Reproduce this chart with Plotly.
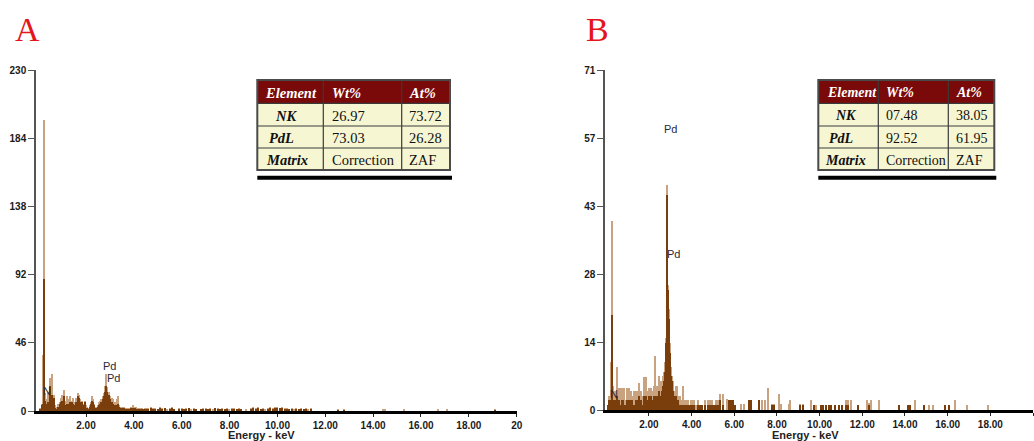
import plotly.graph_objects as go

# ---------------- DATA ----------------
# Panel A spectrum: energy (keV), light (upper) counts, dark (filled) counts
energy_A = [0.10, 0.15, 0.20, 0.25, 0.30, 0.35, 0.40, 0.45, 0.50, 0.55, 0.60, 0.65, 0.70, 0.75, 0.80, 0.85,
            0.90, 0.95, 1.00, 1.05, 1.10, 1.15, 1.20, 1.25, 1.30, 1.35, 1.40, 1.45, 1.50, 1.55, 1.60, 1.65,
            1.70, 1.75, 1.80, 1.85, 1.90, 1.95, 2.00, 2.05, 2.10, 2.15, 2.20, 2.25, 2.30, 2.35, 2.40, 2.45,
            2.50, 2.55, 2.60, 2.65, 2.70, 2.75, 2.80, 2.85, 2.90, 2.95, 3.00, 3.05, 3.10, 3.15, 3.20, 3.25,
            3.30, 3.35, 3.40, 3.45, 3.50, 3.55, 3.60, 3.65, 3.70, 3.75, 3.80, 3.85, 3.90, 3.95, 4.00, 4.05,
            4.10, 4.15, 4.20, 4.25, 4.30, 4.35, 4.40, 4.45, 4.50,
            4.6, 4.7, 4.8, 4.9, 5.0, 5.1, 5.2, 5.3, 5.4, 5.5, 5.6, 5.7, 5.8, 5.9, 6.0, 6.1, 6.2, 6.3, 6.4,
            6.5, 6.6, 6.7, 6.8, 6.9, 7.0, 7.1, 7.2, 7.3, 7.4, 7.5, 7.6, 7.7, 7.8, 7.9, 8.0, 8.1, 8.2, 8.3,
            8.4, 8.5, 8.6, 8.7, 8.8, 8.9, 9.0, 9.1, 9.2, 9.3, 9.4, 9.5, 9.6, 9.7, 9.8, 9.9, 10.0, 10.1,
            10.2, 10.3, 10.4, 10.5, 10.6, 10.7, 10.8, 10.9, 11.0, 11.1, 11.2, 11.3, 11.4,
            12.55, 12.8, 14.4, 14.5, 15.3, 16.7, 17.1, 19.1]
light_A = [2, 5, 38, 196, 12, 8, 13, 9, 22, 16, 25, 11, 4, 2, 3, 5,
           6, 9, 11, 8, 14, 7, 10, 6, 8, 10, 7, 9, 5, 6, 9, 12,
           11, 8, 6, 7, 5, 7, 4, 3, 2, 4, 6, 10, 8, 5, 3, 3,
           4, 6, 7, 8, 10, 12, 17, 25, 16, 13, 10, 7, 9, 8, 6, 5,
           8, 10, 4, 3, 3, 2, 3, 2, 2, 2, 1, 2, 3, 4, 3, 2,
           3, 2, 2, 1, 2, 2, 1, 2, 2,
           2, 3, 2, 2, 1, 3, 2, 2, 1, 2, 3, 1, 0, 2, 2, 1, 2, 2, 1,
           2, 1, 0, 1, 2, 2, 1, 2, 1, 2, 2, 1, 2, 1, 2, 1, 2, 2, 1,
           2, 1, 0, 1, 0, 2, 3, 2, 3, 1, 2, 1, 2, 3, 2, 3, 3, 2,
           3, 2, 2, 1, 2, 1, 2, 1, 2, 1, 2, 1, 2,
           1.5, 1.5, 1, 1, 1, 1, 1, 1]
dark_A = [1, 4, 5, 89, 7, 5, 6, 5, 17, 10, 11, 9, 2, 1, 1, 3,
          5, 6, 7, 5, 10, 4, 5, 4, 5, 6, 6, 5, 3, 4, 6, 10,
          9, 6, 5, 6, 4, 6, 2, 2, 1, 3, 5, 7, 6, 4, 2, 2,
          3, 4, 5, 6, 8, 10, 13, 17, 13, 11, 8, 5, 6, 5, 4, 3,
          4, 5, 3, 2, 2, 1, 2, 1, 1, 1, 1, 1, 2, 2, 2, 2,
          1, 1, 1, 1, 1, 1, 1, 1, 1,
          1, 2, 1, 1, 1, 2, 1, 2, 0, 1, 2, 1, 0, 1, 1, 1, 1, 2, 0,
          1, 1, 0, 1, 1, 1, 1, 1, 0, 2, 1, 1, 1, 1, 1, 0, 1, 1, 1,
          1, 1, 0, 0, 0, 1, 2, 1, 2, 1, 1, 0, 1, 2, 1, 2, 2, 2,
          2, 1, 1, 1, 1, 0, 1, 1, 1, 1, 1, 0, 1,
          0.5, 0.5, 0, 0, 0, 0, 0, 0.5]

# Panel B spectrum
energy_B = [0.10, 0.15, 0.20, 0.25, 0.30, 0.35, 0.40, 0.45, 0.50, 0.55, 0.60, 0.65, 0.70, 0.75, 0.80, 0.85,
            0.90, 0.95, 1.00, 1.05, 1.10, 1.15, 1.20, 1.25, 1.30, 1.35, 1.40, 1.45, 1.50, 1.55, 1.60, 1.65,
            1.70, 1.75, 1.80, 1.85, 1.90, 1.95, 2.00, 2.05, 2.10, 2.15, 2.20, 2.25, 2.30, 2.35, 2.40, 2.45,
            2.50, 2.55, 2.60, 2.65, 2.70, 2.75, 2.80, 2.85, 2.90, 2.95, 3.00, 3.05, 3.10, 3.15, 3.20, 3.25,
            3.30, 3.35, 3.40, 3.45, 3.50, 3.55, 3.60, 3.65, 3.70, 3.75, 3.80, 3.85, 3.90, 3.95, 4.00,
            4.1, 4.2, 4.3, 4.4, 4.5, 4.65, 4.75, 4.85, 4.95, 5.05, 5.15, 5.25, 5.35, 5.45, 5.65, 5.75,
            5.85, 5.95, 6.05, 6.3, 6.45, 6.7, 6.8, 7.15, 7.3, 7.45, 7.6, 7.75, 7.85, 8.1, 8.2, 8.55,
            8.6, 9.1, 9.2, 9.6, 9.75, 9.85, 10.05, 10.15, 10.3, 10.45, 10.55, 10.7, 10.9, 11.05, 11.25,
            11.35, 11.45, 11.8, 12.2, 12.3, 12.4, 12.8, 13.7, 14.15, 14.25, 14.45, 14.9, 15.15, 15.3,
            15.9, 16.05, 16.35, 16.9, 17.9]
light_B = [1, 3, 10, 39.5, 5, 3, 4, 3, 9, 3, 4.5, 2, 4.5, 4.5, 3, 4.5,
           2, 4.5, 3, 4.5, 2, 4, 3, 2, 4, 2, 4, 3, 4, 5.6, 3, 4,
           3, 6.9, 4, 6.9, 3, 4, 4.5, 3, 4.5, 3, 4, 5, 11.3, 4, 5, 7,
           6, 5, 6, 7, 8, 10, 15, 47, 26, 21, 14, 9, 7, 6, 4, 5,
           5, 3, 2, 3, 2, 2, 5, 2, 2, 1, 2, 2, 1, 2, 2,
           2, 1, 2, 1, 1, 2, 2, 2, 2, 1, 2, 2, 3.4, 3.4, 2.2, 2,
           2, 2, 1, 1.2, 1.2, 2, 2, 2, 2, 2, 4.5, 1.2, 1.2, 3.4, 1.2, 1.2,
           2, 1.2, 1.2, 2, 1, 1, 1, 1, 1, 1, 1, 1, 1, 1, 2,
           2, 2, 1, 2, 1.5, 2, 2, 1, 1, 1, 2, 1, 1, 1,
           1, 1, 2, 1, 1]
dark_B = [1, 2, 2, 19.8, 2, 2, 2, 1, 3, 2, 2, 1, 1, 2, 2, 1,
          1, 2, 2, 2, 1, 2, 2, 1, 1, 1, 2, 2, 2, 3, 2, 2,
          1, 3, 2, 3, 2, 2, 3, 2, 3, 2, 2, 3, 3, 2, 3, 4,
          3, 3, 4, 5, 6, 8, 14, 45, 25, 19, 12, 7, 6, 4, 3, 3,
          2, 2, 1, 1, 1, 1, 1, 1, 1, 1, 1, 1, 1, 1, 1,
          1, 0, 1, 1, 1, 1, 1, 1, 1, 1, 1, 1, 2, 1, 0, 2,
          2, 2, 1, 0, 0, 2, 2, 2, 0, 0, 0, 1, 1, 0, 0, 0,
          0, 1, 1, 0, 1, 0, 1, 1, 1, 1, 1, 1, 1, 1, 1,
          1, 0, 1, 0, 1, 0, 0, 1, 1, 1, 0, 1, 0, 0,
          1, 1, 0, 0, 0]

# Axis ticks
x_tickvals = [2, 4, 6, 8, 10, 12, 14, 16, 18, 20]
x_ticktext = ["2.00", "4.00", "6.00", "8.00", "10.00", "12.00", "14.00", "16.00", "18.00", "20"]
yA_tickvals = [0, 46, 92, 138, 184, 230]
yA_ticktext = ["0", "46", "92", "138", "184", "230"]
yB_tickvals = [0, 14.2, 28.4, 42.6, 56.8, 71]
yB_ticktext = ["0", "14", "28", "43", "57", "71"]

# Quantification tables
table_header = ["Element", "Wt%", "At%"]
table_A = [["NK", "26.97", "73.72"], ["PdL", "73.03", "26.28"], ["Matrix", "Correction", "ZAF"]]
table_B = [["NK", "07.48", "38.05"], ["PdL", "92.52", "61.95"], ["Matrix", "Correction", "ZAF"]]

# Peak labels (label, energy keV, counts)
labels_A = [("Pd", 3.0, 30.3), ("Pd", 3.13, 22.3), ("N", 0.37, 13.5)]
labels_B = [("Pd", 2.99, 58.7), ("Pd", 3.17, 32.6), ("N", 0.38, 3.3)]

# ---------------- STYLE ----------------
W, H = 1034, 441
LIGHT = "#C9A27F"
DARK = "#7A3E0C"
SERIF = "Liberation Serif, Times New Roman, serif"
SANS = "Liberation Sans, Arial, sans-serif"


def px(x):
    return x / W


def py(y):
    return 1 - y / H


fig = go.Figure()
for e, lt, dk, xa, ya in [(energy_A, light_A, dark_A, "x", "y"), (energy_B, light_B, dark_B, "x2", "y2")]:
    fig.add_trace(go.Bar(x=e, y=lt, width=0.05, marker=dict(color=LIGHT, line=dict(width=0)),
                         xaxis=xa, yaxis=ya, hoverinfo="skip"))
    fig.add_trace(go.Bar(x=e, y=dk, width=0.05, marker=dict(color=DARK, line=dict(width=0)),
                         xaxis=xa, yaxis=ya, hoverinfo="skip"))

tickfont = dict(family=SANS, size=10, color="#1a1a1a", weight="bold")
xcommon = dict(tickvals=x_tickvals, ticktext=x_ticktext, showgrid=False, zeroline=False,
               showline=True, linecolor="black", linewidth=2.5, ticks="outside", ticklen=3,
               tickcolor="#222", tickwidth=1.2, tickfont=tickfont, fixedrange=True, automargin=False)
ycommon = dict(showgrid=False, zeroline=False, showline=True, linecolor="#555", linewidth=1.5,
               ticks="outside", ticklen=6, tickcolor="#555", tickwidth=1.2, tickfont=tickfont,
               fixedrange=True, automargin=False)

fig.update_layout(
    width=W, height=H, margin=dict(l=0, r=0, t=0, b=0, autoexpand=False),
    paper_bgcolor="white", plot_bgcolor="white", showlegend=False,
    barmode="overlay", bargap=0,
    xaxis=dict(domain=[px(36), px(516.7)], range=[-0.09, 20], anchor="y", **xcommon),
    yaxis=dict(domain=[1 - 411 / H, 1 - 70 / H], range=[0, 230], anchor="x",
               tickvals=yA_tickvals, ticktext=yA_ticktext, **ycommon),
    xaxis2=dict(domain=[px(605), px(1033)], range=[-0.06, 20], anchor="y2", **xcommon),
    yaxis2=dict(domain=[1 - 410 / H, 1 - 70 / H], range=[0, 71], anchor="x2",
                tickvals=yB_tickvals, ticktext=yB_ticktext, **ycommon),
)

annotations = []
shapes = []

# Panel letters
annotations.append(dict(text="A", x=px(27), y=py(29), xref="paper", yref="paper", showarrow=False,
                        font=dict(family=SERIF, size=34, color="#E3161C"), xanchor="center", yanchor="middle"))
annotations.append(dict(text="B", x=px(597), y=py(30), xref="paper", yref="paper", showarrow=False,
                        font=dict(family=SERIF, size=34, color="#E3161C"), xanchor="center", yanchor="middle"))

# Axis titles
for cx in (261, 805):
    annotations.append(dict(text="<b>Energy - keV</b>", x=px(cx), y=0, xref="paper", yref="paper",
                            showarrow=False, font=dict(family=SANS, size=11, color="#222"),
                            xanchor="center", yanchor="bottom", borderpad=0, yshift=-1))

# Peak labels
for labs, xr, yr in [(labels_A, "x", "y"), (labels_B, "x2", "y2")]:
    for t, e, c in labs:
        annotations.append(dict(text=t, x=e, y=c, xref=xr, yref=yr, showarrow=False,
                                font=dict(family=SANS, size=11, color="#2a2a3a"),
                                xanchor="center", yanchor="middle"))


# Tables
def add_table(rows, left, right, c1, c2, text_x, first_x, fsize):
    tops = [80, 103.3, 126, 148, 170]
    shapes.append(dict(type="rect", xref="paper", yref="paper", x0=px(left), x1=px(right),
                       y0=py(tops[1]), y1=py(tops[0]), fillcolor="#7A0A0A", line=dict(width=0), layer="above"))
    shapes.append(dict(type="rect", xref="paper", yref="paper", x0=px(left), x1=px(right),
                       y0=py(tops[4]), y1=py(tops[1]), fillcolor="#F6F6D3", line=dict(width=0), layer="above"))
    for yv in tops[1:4]:
        shapes.append(dict(type="line", xref="paper", yref="paper", x0=px(left), x1=px(right),
                           y0=py(yv), y1=py(yv), line=dict(color="#3a3a3a", width=1.2), layer="above"))
    for xv in (c1, c2):
        shapes.append(dict(type="line", xref="paper", yref="paper", x0=px(xv), x1=px(xv),
                           y0=py(tops[4]), y1=py(tops[0]), line=dict(color="#3a3a3a", width=1.2), layer="above"))
    shapes.append(dict(type="rect", xref="paper", yref="paper", x0=px(left), x1=px(right),
                       y0=py(tops[4]), y1=py(tops[0]), line=dict(color="#4a4a4a", width=2),
                       fillcolor="rgba(0,0,0,0)", layer="above"))
    shapes.append(dict(type="rect", xref="paper", yref="paper", x0=px(left), x1=px(right + 2),
                       y0=py(179.8), y1=py(175.8), fillcolor="black", line=dict(width=0), layer="above"))
    for j, h in enumerate(table_header):
        annotations.append(dict(text=f"<b><i>{h}</i></b>", x=px(text_x[j]), y=py((tops[0] + tops[1]) / 2 + 1),
                                xref="paper", yref="paper", showarrow=False, xanchor="left", yanchor="middle",
                                font=dict(family=SERIF, size=fsize, color="white")))
    for i, row in enumerate(rows):
        yc = (tops[i + 1] + tops[i + 2]) / 2 + 1
        for j, v in enumerate(row):
            if j == 0:
                txt = f"<b><i>{v}</i></b>"
                xx = first_x[i]
            else:
                txt = v
                xx = text_x[j]
            annotations.append(dict(text=txt, x=px(xx), y=py(yc), xref="paper", yref="paper",
                                    showarrow=False, xanchor="left", yanchor="middle",
                                    font=dict(family=SERIF, size=fsize, color="#111")))


add_table(table_A, 257.3, 450, 323.3, 401.7, [263, 330, 407], [273, 267, 264], 14.5)
add_table(table_B, 818.3, 994.3, 878.3, 948.3, [825, 884, 954], [833, 827, 823], 14)

fig.update_layout(annotations=annotations, shapes=shapes)
fig.write_html("out.html")
